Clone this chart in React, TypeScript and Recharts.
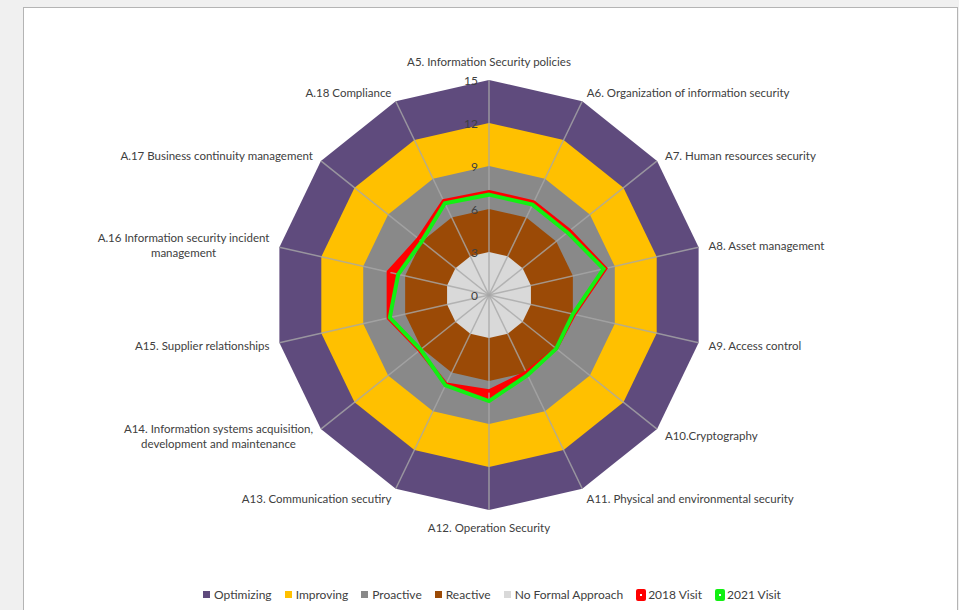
import { RadarChart, Radar, PolarGrid, PolarAngleAxis, PolarRadiusAxis, Legend } from 'recharts';

// ISO 27001 domains, clockwise from the top
const categories = [
  'A5. Information Security policies',
  'A6. Organization of information security',
  'A7. Human resources security',
  'A8. Asset management',
  'A9. Access control',
  'A10.Cryptography',
  'A11. Physical and environmental security',
  'A12. Operation Security',
  'A13. Communication secutiry',
  'A14. Information systems acquisition,\ndevelopment and maintenance',
  'A15. Supplier relationships',
  'A.16 Information security incident\nmanagement',
  'A.17 Business continuity management',
  'A.18 Compliance',
];

const visit2018 = [7.2, 7.2, 7.2, 8.35, 6.1, 6.0, 6.0, 6.7, 6.9, 6.2, 7.2, 7.2, 6.3, 7.3];
const visit2021 = [7.0, 7.0, 7.0, 8.2, 6.0, 6.0, 6.2, 7.4, 7.0, 6.1, 7.1, 6.5, 6.0, 7.1];

// maturity bands
const optimizing = [15, 15, 15, 15, 15, 15, 15, 15, 15, 15, 15, 15, 15, 15];
const improving = [12, 12, 12, 12, 12, 12, 12, 12, 12, 12, 12, 12, 12, 12];
const proactive = [9, 9, 9, 9, 9, 9, 9, 9, 9, 9, 9, 9, 9, 9];
const reactive = [6, 6, 6, 6, 6, 6, 6, 6, 6, 6, 6, 6, 6, 6];
const noFormal = [3, 3, 3, 3, 3, 3, 3, 3, 3, 3, 3, 3, 3, 3];

const radiusTicks = [0, 3, 6, 9, 12, 15];

const legendNames = ['Optimizing', 'Improving', 'Proactive', 'Reactive', 'No Formal Approach', '2018 Visit', '2021 Visit'];
const COLORS = ['#5f4b7d', '#ffc000', '#898989', '#9b4a06', '#d9d9d9', '#ff0000', '#12f012'];

const data = categories.map((name, i) => ({
  name,
  optimizing: optimizing[i],
  improving: improving[i],
  proactive: proactive[i],
  reactive: reactive[i],
  noFormal: noFormal[i],
  v2018: visit2018[i],
  v2021: visit2021[i],
}));

const W = 959;
const H = 610;
const CX = 489;
const CY = 295;
const R = 215;
const FONT = 'Lato, "Open Sans", sans-serif';
const FS = 11.5;
const TEXT = '#404040';

let ctx: CanvasRenderingContext2D | null = null;
const measure = (s: string) => {
  if (!ctx) ctx = document.createElement('canvas').getContext('2d');
  if (!ctx) return s.length * 5.6;
  ctx.font = `${FS}px Lato`;
  return ctx.measureText(s).width;
};

const AngleTick = ({ x, y, payload }: any) => {
  const dx = x - CX;
  const dy = y - CY;
  const len = Math.hypot(dx, dy) || 1;
  const ux = dx / len;
  const uy = dy / len;
  const ax = CX + ux * (R + 10);
  const ay = CY + uy * (R + 10);
  const lines = String(payload.value).split('\n');
  if (Math.abs(ux) < 0.05) {
    return (
      <text x={ax} y={ay + (uy < 0 ? -9 : 7)} textAnchor="middle" dominantBaseline="central"
        fontFamily={FONT} fontSize={FS} fill={TEXT}>{lines[0]}</text>
    );
  }
  const w = Math.max(...lines.map(measure));
  const mid = ux > 0 ? ax + w / 2 : ax - w / 2;
  const lh = 15;
  const top = ay - ((lines.length - 1) * lh) / 2;
  return (
    <text textAnchor="middle" dominantBaseline="central" fontFamily={FONT} fontSize={FS} fill={TEXT}>
      {lines.map((l, i) => (
        <tspan key={i} x={mid} y={top + i * lh}>{l}</tspan>
      ))}
    </text>
  );
};

const RadiusTick = ({ x, y, payload }: any) => (
  <text x={x - 11} y={y} textAnchor="end" dominantBaseline="central" fontFamily={FONT} fontSize={12} fill={TEXT}>
    {payload.value}
  </text>
);

// red area between the 2018 and 2021 outlines
const GapShape = (props: any) => {
  const pts = props.points || [];
  const base = props.baseLinePoints || [];
  const poly = (p: any[]) => (p.length ? p.map((q, i) => `${i ? 'L' : 'M'}${q.x},${q.y}`).join('') + 'Z' : '');
  return <path d={poly(pts) + poly(base)} fill={COLORS[5]} fillRule="evenodd" stroke="none" />;
};

const LegendContent = () => (
  <div style={{ display: 'flex', justifyContent: 'center', gap: 13, fontFamily: FONT, fontSize: 12, color: TEXT, marginLeft: 25 }}>
    {legendNames.map((n, i) => (
      <span key={n} style={{ display: 'flex', alignItems: 'center' }}>
        {i < 5 ? (
          <span style={{ width: 7, height: 7, background: COLORS[i], marginRight: 4 }} />
        ) : (
          <span style={{ width: 10, height: 12, borderRadius: 2, background: COLORS[i], marginRight: 2, display: 'flex', alignItems: 'center', justifyContent: 'center' }}>
            <span style={{ width: 2, height: 2, background: '#fff' }} />
          </span>
        )}
        {n}
      </span>
    ))}
  </div>
);

const chartProps = {
  width: W,
  height: H,
  data,
  cx: CX,
  cy: CY,
  outerRadius: R,
  margin: { top: 0, right: 0, bottom: 0, left: 0 },
};

const layer: React.CSSProperties = { position: 'absolute', left: 0, top: 0 };

export default function App() {
  return (
    <div style={{ position: 'fixed', left: 0, top: 0, width: W, height: H, background: '#f0f0f0', overflow: 'hidden' }}>
      <div style={{ position: 'absolute', left: 23, top: 7, width: 933, height: 620, background: '#fff', border: '1px solid #b4b4b4' }} />
      <div style={layer}>
        <RadarChart {...chartProps}>
          <PolarAngleAxis dataKey="name" tick={false} axisLine={false} tickLine={false} />
          <PolarRadiusAxis angle={90} domain={[0, 15]} ticks={radiusTicks} tick={false} axisLine={false} />
          <Radar dataKey="optimizing" fill={COLORS[0]} fillOpacity={1} stroke="none" isAnimationActive={false} />
          <Radar dataKey="improving" fill={COLORS[1]} fillOpacity={1} stroke="none" isAnimationActive={false} />
          <Radar dataKey="proactive" fill={COLORS[2]} fillOpacity={1} stroke="none" isAnimationActive={false} />
          <Radar dataKey={(d: any) => [d.v2018, d.v2021]} shape={GapShape} isAnimationActive={false} />
          <Radar dataKey="reactive" fill={COLORS[3]} fillOpacity={1} stroke="none" isAnimationActive={false} />
          <Radar dataKey="noFormal" fill={COLORS[4]} fillOpacity={1} stroke="none" isAnimationActive={false} />
        </RadarChart>
      </div>
      <div style={layer}>
        <RadarChart {...chartProps}>
          <PolarGrid gridType="polygon" polarRadius={[]} stroke="#a8a8a8" strokeOpacity={0.8} strokeWidth={1.5} />
          <PolarAngleAxis dataKey="name" tick={<AngleTick />} axisLine={false} tickLine={false} />
          <PolarRadiusAxis angle={90} domain={[0, 15]} ticks={radiusTicks} tick={<RadiusTick />} axisLine={false} tickLine={false} />
          <Radar name="2018 Visit" dataKey="v2018" stroke={COLORS[5]} strokeWidth={3.5} fill="none" fillOpacity={0} isAnimationActive={false} />
          <Radar name="2021 Visit" dataKey="v2021" stroke={COLORS[6]} strokeWidth={4} fill="none" fillOpacity={0} isAnimationActive={false} />
          <Legend content={<LegendContent />} wrapperStyle={{ position: 'absolute', left: 0, top: 587, width: W }} />
        </RadarChart>
      </div>
    </div>
  );
}
